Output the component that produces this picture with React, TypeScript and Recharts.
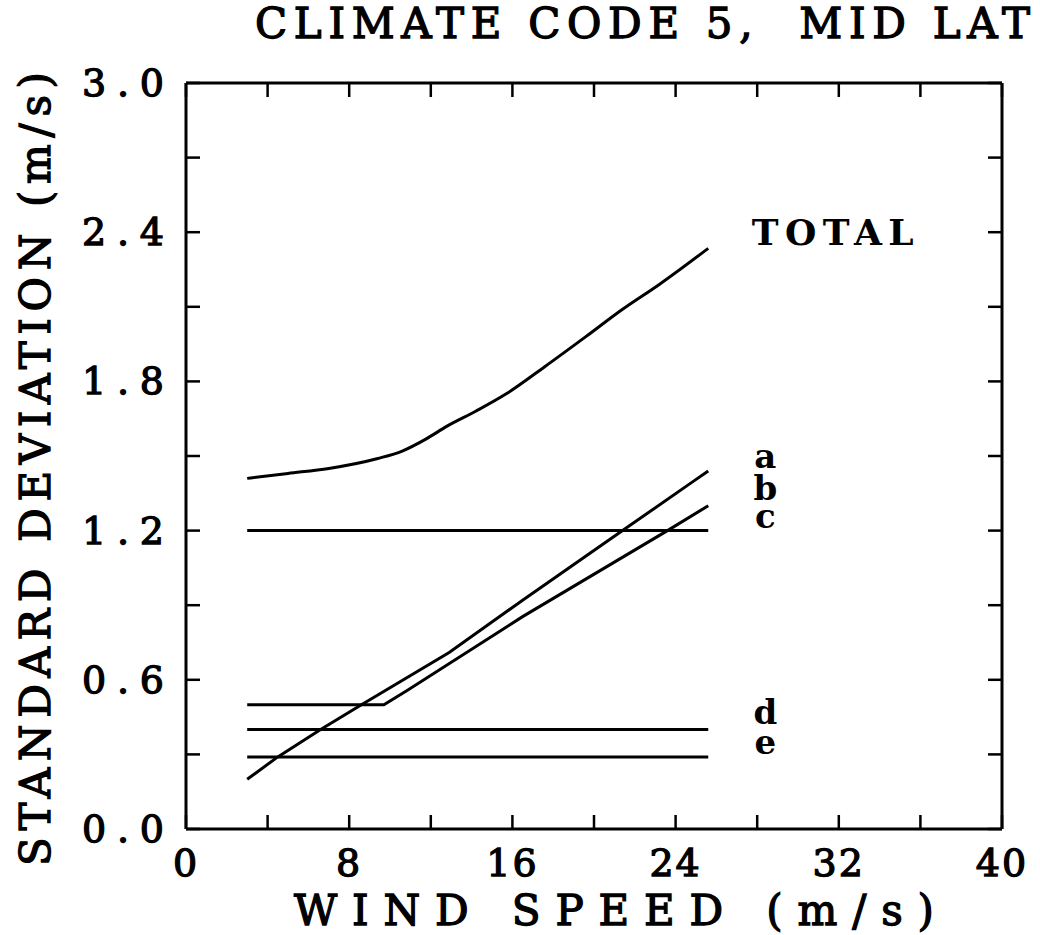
import React from 'react';
import {
  LineChart, Line, XAxis, YAxis, ReferenceDot
} from 'recharts';

// wind speed (m/s) vs standard deviation (m/s) for each curve
const totalX = [3, 5, 7, 9.4, 10.6, 11.8, 12.8, 14.2, 15.7, 17.6, 19.6, 21.4, 23.2, 25.6];
const totalY = [1.41, 1.43, 1.45, 1.49, 1.52, 1.57, 1.62, 1.68, 1.75, 1.86, 1.98, 2.09, 2.19, 2.335];

const aX = [3, 4.5, 6.6, 8.6, 12.9, 16.5, 21.4, 24.9, 25.6];
const aY = [0.2, 0.29, 0.4, 0.5, 0.71, 0.92, 1.2, 1.4, 1.44];

const bX = [3, 9.7, 10.8, 16.5, 23.6, 25.6];
const bY = [0.5, 0.5, 0.555, 0.854, 1.2, 1.3];

const cX = [3, 25.6];
const cY = [1.2, 1.2];

const dX = [3, 25.6];
const dY = [0.4, 0.4];

const eX = [3, 25.6];
const eY = [0.29, 0.29];

const xTicks = [0, 4, 8, 12, 16, 20, 24, 28, 32, 36, 40];
const yTicks = [0, 0.3, 0.6, 0.9, 1.2, 1.5, 1.8, 2.1, 2.4, 2.7, 3.0];

const curveLabels = ['TOTAL', 'a', 'b', 'c', 'd', 'e'];
const labelX = [31.7, 28.4, 28.4, 28.4, 28.4, 28.4];
const labelY = [2.4, 1.5, 1.37, 1.26, 0.47, 0.35];

const zip = (xs: number[], ys: number[]) => xs.map((x, i) => ({ x, y: ys[i] }));

const series = [
  zip(totalX, totalY),
  zip(aX, aY),
  zip(bX, bY),
  zip(cX, cY),
  zip(dX, dY),
  zip(eX, eY),
];

const FONT = '"DejaVu Serif", "Liberation Serif", serif';
const TICK = 14;
// thicken the book weight a little, like the typewriter print
const ink = { fill: '#000', stroke: '#000', strokeWidth: 1.3 };

const BottomTick = (props: any) => {
  const { x, y, payload } = props;
  const v = payload.value;
  return (
    <g>
      <line x1={x} y1={y} x2={x} y2={y - TICK} stroke="#000" strokeWidth={2.5} />
      {v % 8 === 0 && (
        <text x={x} y={y + 34} textAnchor="middle" dominantBaseline="central"
          fontFamily={FONT} fontSize={38} letterSpacing={2} {...ink}>{v}</text>
      )}
    </g>
  );
};

const TopTick = (props: any) => {
  const { x, y } = props;
  return <line x1={x} y1={y} x2={x} y2={y + TICK} stroke="#000" strokeWidth={2.5} />;
};

const LeftTick = (props: any) => {
  const { x, y, payload } = props;
  const v = payload.value;
  const show = Math.round(v * 10) % 6 === 0;
  return (
    <g>
      <line x1={x} y1={y} x2={x + TICK} y2={y} stroke="#000" strokeWidth={2.5} />
      {show && (
        <text x={x - 22} y={y} textAnchor="end" dominantBaseline="central"
          fontFamily={FONT} fontSize={38} textLength={82} lengthAdjust="spacing" {...ink}>
          {v.toFixed(1)}
        </text>
      )}
    </g>
  );
};

const RightTick = (props: any) => {
  const { x, y } = props;
  return <line x1={x} y1={y} x2={x - TICK} y2={y} stroke="#000" strokeWidth={2.5} />;
};

const CurveLabel = (text: string) => (props: any) => {
  const { viewBox } = props;
  const wide = text.length > 1;
  return (
    <text x={viewBox.x} y={viewBox.y} textAnchor="middle" dominantBaseline="central"
      fontFamily={FONT} fontWeight="bold" fontSize={wide ? 36 : 34}
      textLength={wide ? 162 : undefined} lengthAdjust="spacing" fill="#000">
      {text}
    </text>
  );
};

const App: React.FC = () => {
  return (
    <div style={{ position: 'absolute', left: 0, top: 0, width: 1040, height: 935, background: '#fff' }}>
      <svg width={1040} height={935} style={{ position: 'absolute', left: 0, top: 0 }}>
        <text x={255} y={38} fontFamily={FONT} fontSize={42} textLength={775}
          lengthAdjust="spacing" {...ink} style={{ whiteSpace: 'pre' }}>
          {'CLIMATE CODE 5,  MID LAT'}
        </text>
        <text x={294} y={925} fontFamily={FONT} fontSize={42} textLength={640}
          lengthAdjust="spacing" {...ink} style={{ whiteSpace: 'pre' }}>
          WIND SPEED (m/s)
        </text>
        <text x={50} y={866} transform="rotate(-90 50 866)" fontFamily={FONT} fontSize={42}
          textLength={794} lengthAdjust="spacing" {...ink} style={{ whiteSpace: 'pre' }}>
          STANDARD DEVIATION (m/s)
        </text>
      </svg>
      <div style={{ position: 'absolute', left: 0, top: 0 }}>
        <LineChart width={1040} height={935} margin={{ top: 73, right: 28, bottom: 46, left: 116 }}>
          <XAxis xAxisId="bottom" dataKey="x" type="number" domain={[0, 40]} ticks={xTicks}
            orientation="bottom" height={60} tickSize={0} tickMargin={0} tickLine={false}
            axisLine={{ stroke: '#000', strokeWidth: 3 }} tick={<BottomTick />} allowDataOverflow />
          <XAxis xAxisId="top" dataKey="x" type="number" domain={[0, 40]} ticks={xTicks}
            orientation="top" height={10} tickSize={0} tickMargin={0} tickLine={false}
            axisLine={{ stroke: '#000', strokeWidth: 3 }} tick={<TopTick />} allowDataOverflow />
          <YAxis yAxisId="left" type="number" domain={[0, 3]} ticks={yTicks}
            orientation="left" width={70} tickSize={0} tickMargin={0} tickLine={false}
            axisLine={{ stroke: '#000', strokeWidth: 3 }} tick={<LeftTick />} allowDataOverflow />
          <YAxis yAxisId="right" type="number" domain={[0, 3]} ticks={yTicks}
            orientation="right" width={10} tickSize={0} tickMargin={0} tickLine={false}
            axisLine={{ stroke: '#000', strokeWidth: 3 }} tick={<RightTick />} allowDataOverflow />
          {series.map((data, i) => (
            <Line key={i} xAxisId="bottom" yAxisId="left" data={data} dataKey="y"
              type={i === 0 ? 'monotone' : 'linear'} stroke="#000" strokeWidth={3} dot={false}
              isAnimationActive={false} />
          ))}
          {curveLabels.map((t, i) => (
            <ReferenceDot key={t} xAxisId="bottom" yAxisId="left" x={labelX[i]} y={labelY[i]}
              r={0} fill="none" stroke="none" label={CurveLabel(t)} />
          ))}
        </LineChart>
      </div>
    </div>
  );
};

export default App;
